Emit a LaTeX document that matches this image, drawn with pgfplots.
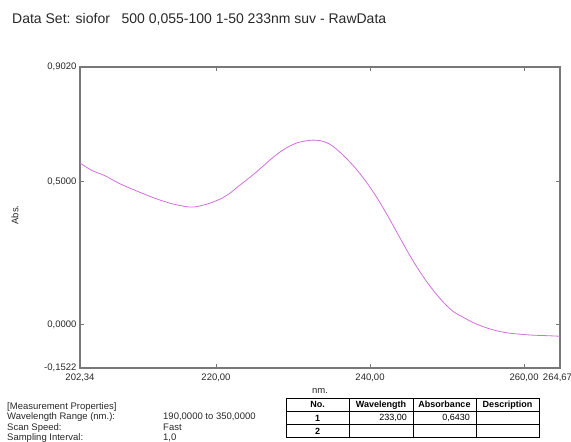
\documentclass[border=0pt]{standalone}
\usepackage{pgfplots}
\pgfplotsset{compat=1.18}
\usepackage{fontspec}
\setmainfont{Liberation Sans}
\definecolor{curve}{RGB}{208,112,218}
\definecolor{axgray}{RGB}{120,120,120}
\definecolor{txt}{RGB}{40,40,40}
\begin{document}
\begin{tikzpicture}[x=1pt,y=1pt]
\useasboundingbox (0,0) rectangle (571,442);
\begin{axis}[
  scale only axis,
  width=480pt, height=301pt,
  anchor=south west, at={(80pt,74pt)},
  xmin=202.34, xmax=264.67,
  ymin=-0.1522, ymax=0.902,
  xtick={202.34,220,240,260,264.67},
  xticklabels={{202,34},{220,00},{240,00},{260,00},{\hspace*{-5pt}264,67}},
  ytick={-0.1522,0,0.5,0.902},
  yticklabels={{-0,1522},{0,0000},{0,5000},{0,9020}},
  tick label style={font=\fontsize{9.5}{11}\selectfont, text=txt},
  xticklabel style={yshift=-2pt},
  axis line style={axgray, line width=1.1pt},
  tick style={axgray, line width=0.8pt},
  tick align=inside,
  major tick length=4pt,
]
\addplot[curve, line width=0.8pt, smooth, tension=0.5] coordinates {
(202.34,0.566) (203.86,0.540) (205.6,0.521) (207.3,0.496) (209.5,0.470)
(212.1,0.442) (214.3,0.423) (216.4,0.412) (217.5,0.413) (218.6,0.420)
(219.7,0.430) (220.8,0.443) (221.9,0.462) (222.9,0.484) (224.0,0.507)
(225.1,0.531) (226.2,0.557) (227.3,0.583) (228.4,0.606) (229.5,0.624)
(230.5,0.636) (231.6,0.643) (232.6,0.646) (233.5,0.644) (234.3,0.638)
(235.1,0.626) (236.0,0.606) (237.0,0.580) (238.0,0.551) (239.0,0.518)
(240.0,0.481) (241.0,0.440) (242.0,0.395) (243.0,0.347) (244.0,0.298)
(245.0,0.250) (246.0,0.205) (247.0,0.164) (248.0,0.127) (249.0,0.094)
(250.0,0.065) (251.0,0.042) (252.2,0.024) (253.3,0.008) (254.35,-0.004)
(255.4,-0.014) (256.5,-0.022) (257.6,-0.028) (258.7,-0.032)
(261.0,-0.037) (263.0,-0.039) (264.67,-0.041)
};
\end{axis}
% title
\node[anchor=base west, inner sep=0, text=txt, font=\fontsize{14}{16}\selectfont] at (12,418.7) {Data Set: siofor\ \ \ 500 0,055-100 1-50 233nm suv - RawData};
% axis labels
\node[rotate=90, inner sep=0, text=txt, font=\fontsize{9.5}{11}\selectfont] at (15,227) {Abs.};
\node[inner sep=0, text=txt, font=\fontsize{9.5}{11}\selectfont] at (320,51) {nm.};
% measurement properties
\begin{scope}[every node/.style={anchor=base west, inner sep=0, text=txt, font=\fontsize{9.5}{11}\selectfont}]
\node at (7,32.5) {[Measurement Properties]};
\node at (7,22) {Wavelength Range (nm.):};
\node at (7,11.5) {Scan Speed:};
\node at (7,1.5) {Sampling Interval:};
\node at (163,22) {190,0000 to 350,0000};
\node at (163,11.5) {Fast};
\node at (163,1.5) {1,0};
\end{scope}
% table
\draw[black, line width=0.6pt] (286,44) rectangle (539,4.5);
\draw[black, line width=0.6pt] (286,30.5) -- (539,30.5);
\draw[black, line width=0.6pt] (286,17.5) -- (539,17.5);
\foreach \xx in {349,413,476} \draw[black, line width=0.6pt] (\xx,44) -- (\xx,4.5);
\begin{scope}[every node/.style={inner sep=0, text=black, font=\fontsize{9}{11}\selectfont}]
\node[font=\fontsize{9}{11}\selectfont\bfseries] at (317.5,37.25) {No.};
\node[font=\fontsize{9}{11}\selectfont\bfseries] at (381,37.25) {Wavelength};
\node[font=\fontsize{9}{11}\selectfont\bfseries] at (444.5,37.25) {Absorbance};
\node[font=\fontsize{9}{11}\selectfont\bfseries] at (507.5,37.25) {Description};
\node[font=\fontsize{9}{11}\selectfont\bfseries] at (317.5,24) {1};
\node[font=\fontsize{9}{11}\selectfont\bfseries] at (317.5,11) {2};
\node[anchor=east] at (407,24) {233,00};
\node[anchor=east] at (470,24) {0,6430};
\end{scope}
\end{tikzpicture}
\end{document}
